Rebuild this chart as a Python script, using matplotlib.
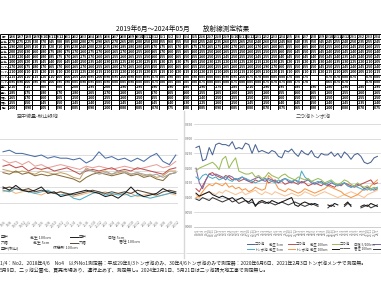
import numpy as np
import matplotlib
matplotlib.use("Agg")
import matplotlib.pyplot as plt
from matplotlib.lines import Line2D

plt.rcParams['font.family'] = ['Noto Sans CJK JP', 'DejaVu Sans']

nan = np.nan
W, H = 381, 286

# ---------------- data ----------------
title = "2019年6月～2024年05月　　放射線測定結果"
left_title = "空中線量-秋山緑地"
right_title = "二つ池トンボ池"

left_dates = ["19/6", "19/8", "19/10", "19/12", "20/2", "20/4", "20/6", "20/8", "20/10", "20/12",
              "21/2", "21/4", "21/6", "21/8", "21/10", "21/12", "22/2", "22/4", "22/6", "22/8",
              "22/10", "22/12", "23/2", "23/4", "23/6", "23/8", "23/10", "23/12"]

left_blue = [0.21, 0.215, 0.205, 0.205, 0.20, 0.195, 0.20, 0.19, 0.195, 0.19, 0.19, 0.185, 0.19, 0.175,
             0.185, 0.21, 0.19, 0.195, 0.185, 0.19, 0.18, 0.19, 0.18, 0.195, 0.205, 0.18, 0.17, 0.20]
left_pink = [0.185, 0.175, 0.18, 0.17, 0.18, 0.165, 0.17, 0.16, 0.165, 0.17, 0.165, 0.16, 0.155, 0.165,
             0.16, 0.165, 0.16, 0.155, 0.16, 0.165, 0.16, 0.155, 0.16, 0.165, 0.17, 0.16, 0.165, 0.18]
left_red = [0.165, 0.17, 0.16, 0.165, 0.15, 0.16, 0.155, 0.16, 0.15, 0.155, 0.16, 0.15, 0.14, 0.15,
            0.155, 0.15, 0.155, 0.16, 0.15, 0.155, 0.15, 0.16, 0.155, 0.15, 0.145, 0.14, 0.155, 0.16]
left_olive = [0.155, 0.15, 0.145, 0.15, 0.145, 0.14, 0.15, 0.145, 0.14, 0.145, 0.14, 0.13, 0.125, 0.16,
              0.15, 0.145, 0.15, 0.14, 0.145, 0.15, 0.14, 0.145, 0.135, 0.14, 0.13, 0.135, 0.15, 0.15]
left_brown = [0.145, 0.14, 0.15, 0.14, 0.145, 0.135, 0.14, 0.135, 0.14, 0.135, 0.13, 0.125, 0.115, 0.13,
              0.14, 0.145, 0.14, 0.135, 0.14, 0.145, 0.135, 0.14, 0.13, 0.135, 0.125, 0.12, 0.14, 0.145]
left_gray = [nan, nan, nan, nan, nan, nan, nan, nan, nan, nan, nan, nan, 0.14, 0.155,
             0.15, 0.14, 0.145, 0.14, 0.15, 0.145, 0.14, 0.145, 0.14, 0.135, 0.14, 0.13, 0.14, 0.145]
left_black = [0.10, 0.09, 0.105, 0.09, 0.085, 0.09, 0.10, 0.08, 0.085, 0.07, 0.075, 0.08, 0.085, 0.09,
              0.085, 0.08, 0.07, 0.075, 0.065, 0.08, 0.10, 0.08, 0.07, 0.075, 0.08, 0.095, 0.085, 0.08]
left_dark = [0.095, 0.10, 0.095, 0.09, 0.095, 0.085, 0.09, 0.085, 0.08, 0.085, 0.08, 0.075, 0.08, 0.085,
             0.09, 0.085, 0.08, 0.085, 0.08, 0.085, 0.08, 0.09, 0.085, 0.08, 0.075, 0.085, 0.09, 0.085]
left_cyan = [0.09, 0.085, 0.095, 0.09, 0.085, 0.08, 0.085, 0.09, 0.08, 0.075, 0.08, 0.065, 0.06, 0.07,
             0.08, 0.085, 0.075, 0.08, 0.075, 0.08, 0.07, 0.075, 0.07, 0.065, 0.07, 0.075, 0.08, 0.085]
left_tan = [0.085, 0.09, 0.08, 0.085, 0.09, 0.08, 0.075, 0.085, 0.08, 0.085, 0.075, 0.07, 0.075, 0.08,
            0.085, 0.08, 0.085, 0.075, 0.08, 0.075, 0.08, 0.07, 0.075, 0.08, 0.07, 0.075, 0.08, 0.075]

left_series = [left_blue, left_pink, left_red, left_olive, left_brown, left_gray,
               left_tan, left_cyan, left_dark, left_black]
left_colors = ["#4a6fa5", "#e8a09a", "#c0504d", "#c4a66a", "#8a6d3b", "#a5a5a5",
               "#f2b880", "#4bacc6", "#5a4636", "#1a1a1a"]
left_legend = [("空中", "芝生 100cm"), ("空中", "日陰 5cm"),
               ("六幡", "芝生 5cm"), ("六幡", "居住 100cm"),
               ("空中(秋山)", "休憩所 100cm")]

right_dates = [f"{y % 100}/{m}" for y, m in
               [(2019 + (5 + k) // 12, (5 + k) % 12 + 1) for k in range(56)]]

right_blue = [0.27, 0.275, 0.225, 0.23, 0.27, 0.245, 0.28, 0.285, 0.28, 0.28, 0.275, 0.29, 0.265, 0.27,
              0.265, 0.285, 0.28, 0.25, 0.28, 0.255, 0.26, 0.255, 0.25, 0.26, 0.255, 0.24, 0.235, 0.26,
              0.255, 0.265, 0.25, 0.24, 0.26, 0.25, 0.245, 0.26, 0.24, 0.235, 0.25, 0.245, 0.245, 0.255,
              0.24, 0.25, 0.235, 0.255, 0.245, 0.23, 0.245, 0.25, 0.24, 0.22, 0.215, 0.22, 0.235, 0.24]
right_green = [0.19, 0.20, 0.205, 0.21, 0.215, 0.22, 0.21, 0.195, 0.23, 0.24, 0.20, 0.22, 0.235, 0.19,
               0.185, 0.18, 0.18, 0.185, 0.17, 0.175, 0.165, 0.17, 0.185, 0.175, 0.17, 0.165, 0.175, 0.18,
               0.17, 0.165, 0.16, 0.17, 0.165, 0.16, 0.165, 0.155, 0.16, 0.165, 0.16, 0.15, 0.155, 0.16,
               0.15, 0.145, 0.15, 0.16, 0.155, 0.145, 0.14, 0.15, 0.14, 0.135, 0.14, 0.13, 0.135, 0.13]
right_purple = [0.20, 0.15, 0.13, 0.16, 0.18, 0.175, 0.18, 0.175, 0.17, 0.16, 0.175, 0.17, 0.16, 0.165,
                0.17, 0.16, 0.155, 0.16, 0.165, 0.17, 0.16, 0.155, 0.165, 0.16, 0.155, 0.15, 0.16, 0.165,
                0.155, 0.15, 0.16, 0.155, 0.15, 0.155, 0.16, 0.15, 0.145, 0.15, 0.155, 0.145, 0.14, 0.15,
                0.145, 0.14, 0.145, 0.15, 0.14, 0.135, 0.14, 0.145, 0.14, 0.13, 0.135, 0.13, 0.125, 0.13]
right_red = [0.13, 0.12, 0.14, 0.16, 0.18, 0.185, 0.175, 0.17, 0.165, 0.175, 0.17, 0.16, 0.165, 0.155,
             0.16, 0.165, 0.155, 0.15, 0.16, 0.155, 0.16, 0.165, 0.15, 0.155, 0.16, 0.15, 0.155, 0.145,
             0.15, 0.155, 0.15, 0.145, 0.155, 0.15, 0.14, 0.145, 0.15, 0.145, 0.14, 0.15, 0.145, 0.14,
             0.135, 0.145, 0.14, 0.15, 0.145, 0.14, 0.135, 0.14, 0.145, 0.15, 0.155, 0.16, 0.145, 0.15]
right_orange = [0.10, 0.105, 0.12, 0.135, 0.145, 0.14, 0.15, 0.145, 0.14, 0.15, 0.135, 0.14, 0.13, 0.135,
                0.125, 0.13, 0.12, 0.125, 0.135, 0.13, 0.125, 0.13, 0.175, 0.165, 0.15, 0.13, 0.125, 0.12,
                0.13, 0.125, 0.12, 0.115, 0.12, 0.13, 0.125, 0.12, 0.115, 0.12, 0.125, 0.13, 0.14, 0.135,
                0.13, 0.125, 0.12, 0.11, 0.105, 0.10, 0.105, 0.11, 0.12, 0.13, 0.125, 0.14, 0.15, 0.16]
right_cyan = [0.17, 0.16, 0.175, 0.18, 0.17, 0.165, 0.17, 0.16, 0.165, 0.17, 0.16, 0.155, 0.165, 0.16,
              0.17, 0.165, 0.16, 0.155, 0.15, 0.155, 0.16, 0.165, 0.16, 0.155, 0.15, 0.16, 0.155, 0.165,
              0.16, 0.155, 0.16, 0.15, 0.19, 0.17, 0.16, 0.155, 0.15, 0.155, 0.15, 0.145, 0.15, 0.155,
              0.145, 0.14, 0.145, 0.15, 0.14, 0.135, 0.14, 0.135, 0.13, 0.125, 0.13, 0.125, 0.13, 0.135]
right_peach = [0.11, 0.10, 0.11, 0.115, 0.12, 0.115, 0.11, 0.12, 0.115, 0.125, 0.12, 0.115, 0.11, 0.115,
               0.12, 0.11, 0.115, 0.12, 0.125, 0.115, 0.11, 0.12, 0.115, 0.11, 0.12, 0.115, 0.11, 0.105,
               0.11, 0.115, 0.11, 0.105, 0.11, 0.12, 0.115, 0.11, 0.105, 0.11, 0.115, 0.12, 0.115, 0.11,
               0.105, 0.10, 0.105, 0.11, 0.115, 0.12, 0.115, 0.11, 0.105, 0.10, 0.11, 0.115, 0.12, 0.125]
right_black = [0.115, 0.105, 0.11, 0.115, 0.12, 0.11, 0.105, 0.10, 0.105, 0.10, 0.095, 0.10, 0.09, 0.095,
               0.10, 0.09, 0.085, 0.095, 0.07, 0.085, 0.09, 0.085, 0.08, 0.09, 0.085, 0.08, 0.085, 0.09,
               0.095, 0.10, 0.075, 0.07, 0.08, 0.085, 0.08, 0.075, 0.08, 0.075, nan, nan, 0.075, 0.07,
               0.08, 0.075, nan, 0.075, 0.085, 0.07, nan, nan, 0.07, 0.075, 0.07, 0.08, 0.075, 0.07]
right_dark = [0.095, 0.09, 0.10, 0.095, 0.09, 0.10, 0.095, 0.09, 0.085, 0.09, 0.095, 0.085, 0.09, 0.08,
              0.085, 0.09, 0.08, 0.085, 0.075, 0.08, 0.085, 0.08, 0.085, 0.08, 0.075, 0.08, 0.085, 0.08,
              0.075, 0.08, 0.085, 0.08, 0.075, 0.07, 0.075, 0.08, 0.075, 0.07, nan, nan, 0.065, 0.075,
              0.07, nan, nan, 0.07, 0.08, 0.075, nan, nan, 0.065, 0.07, 0.075, 0.065, 0.07, 0.075]

right_series = [right_peach, right_orange, right_red, right_purple, right_cyan, right_green,
                right_blue, right_dark, right_black]
right_colors = ["#f9c394", "#f79646", "#c0504d", "#8064a2", "#4bacc6", "#9bbb59",
                "#4a6494", "#3a3a3a", "#141414"]
right_legend_rows = [
    [("#4a6494", "二つ池", "芝生 5cm"), ("#c0504d", "二つ池", "芝生 100cm"),
     ("#9bbb59", "二つ池", "日陰 5/100cm"), ("#8064a2", "二つ池", "")],
    [("#4bacc6", "トンボ池", "芝生 5cm"), ("#f79646", "トンボ池", "芝生 100cm"),
     ("#141414", "━━━", "居住 100cm"), ("#3a3a3a", "", "")],
]
right_yticks = [0.0, 0.05, 0.10, 0.15, 0.20, 0.25, 0.30, 0.35]

site_names = ["日付", "二つ池1", "二つ池2", "二つ池3", "二つ池4", "二つ池5", "トンボ1", "トンボ2",
              "トンボ3", "トンボ4", "空中1", "空中2", "六幡1", "六幡2", "秋山"]

footnote1 = ("1/4：No2、2018年4/6　No4　以外No1測定器：平成29年6/3トンボ池のみ、30年4/6トンボ池のみで測定器："
             "2020年6月6日、2021年2月3日トンボ池メンテで測定無。")
footnote2 = "5月9日、二ッ池公園北、買売市場あり、運行止めず、測定無し。2024年2月1日、5月21日は二ッ池調大地工事で測定無し。"

# ---------------- figure ----------------
fig = plt.figure(figsize=(W / 100, H / 100), dpi=100)
fig.patch.set_facecolor("white")


def axes_px(x0, y0, x1, y1):
    return fig.add_axes([x0 / W, 1 - y1 / H, (x1 - x0) / W, (y1 - y0) / H])


def fx(x):
    return x / W


def fy(y):
    return 1 - y / H


fig.text(fx(183), fy(29), title, fontsize=4.8, ha="center", va="center", color="#111111")

# ---------------- table ----------------
n_rows, n_cols = 15, 48
ax_t = axes_px(0, 34, 381, 110)
ax_t.set_xlim(0, n_cols)
ax_t.set_ylim(n_rows, 0)
ax_t.axis("off")
ax_t.hlines(np.arange(n_rows + 1), 0, n_cols, color="black", lw=0.7)
ax_t.vlines(np.arange(n_cols + 1), 0, n_rows, color="black", lw=0.7)

right_rows = [right_blue, right_green, right_purple, right_red, right_orange,
              right_cyan, right_peach, right_black, right_dark]
left_rows = [left_blue, left_pink, left_red, left_olive, left_black]
for r in range(n_rows):
    ax_t.text(0.5, r + 0.55, site_names[r], fontsize=1.6, ha="center", va="center",
              color="black", fontweight="bold")
    for c in range(1, n_cols):
        k = c - 1
        if r == 0:
            s = right_dates[k]
        elif r <= len(right_rows):
            v = right_rows[r - 1][k]
            s = "" if np.isnan(v) else f"{v:.3f}"[1:]
        else:
            ser = left_rows[r - 1 - len(right_rows)]
            if k % 2 == 0 and k // 2 < len(ser) and not np.isnan(ser[k // 2]):
                s = f"{ser[k // 2]:.3f}"[1:]
            else:
                s = ""
        if s:
            ax_t.text(c + 0.5, r + 0.55, s, fontsize=2.1, ha="center", va="center",
                      color="black", fontweight="bold", family="DejaVu Sans")

# ---------------- left chart ----------------
ax_l = axes_px(-6.6, 129.4, 177.7, 219)
xl = np.arange(len(left_dates))
for ser, col in zip(left_series, left_colors):
    ax_l.plot(xl, ser, color=col, lw=0.75)
ax_l.set_xlim(-1.5, 27.3)
ax_l.set_ylim(0, 0.28)
ax_l.set_yticks([0, 0.05, 0.10, 0.15, 0.20, 0.25])
ax_l.yaxis.grid(True, color="#d0d0d0", lw=0.5)
ax_l.set_axisbelow(True)
for s in ax_l.spines.values():
    s.set_visible(False)
ax_l.tick_params(axis="y", left=False, labelleft=False)
ax_l.set_xticks(xl)
ax_l.set_xticklabels(left_dates, rotation=45, fontsize=2.4, color="#777777", ha="center")
ax_l.tick_params(axis="x", length=0, pad=0.5)
fig.text(fx(17), fy(116), left_title, fontsize=3.6, ha="left", va="center", color="#444444")

# left legend (manual)
leg_pos = [(1, 237), (70, 237), (1, 242.5), (70, 242.5), (1, 248)]
leg_sub_dx = [29, 29, 32, 40, 52]
leg_cols = ["#4a6fa5", "#1a1a1a", "#e8a09a", "#5a4636", "#4bacc6"]
for (name, sub), (lx, ly), lc, dx in zip(left_legend, leg_pos, leg_cols, leg_sub_dx):
    if lx > 5:
        fig.add_artist(Line2D([fx(lx), fx(lx + 8)], [fy(ly), fy(ly)], color=lc, lw=0.7))
        tx = lx + 9
    else:
        tx = lx
    fig.text(fx(tx), fy(ly), name, fontsize=2.8, ha="left", va="center", color="#333333")
    fig.text(fx(tx + dx), fy(ly), sub, fontsize=2.8, ha="left", va="center", color="#333333")

# ---------------- right chart ----------------
ax_r = axes_px(194.35, 124, 384, 227)
xr = np.arange(len(right_dates))
for ser, col in zip(right_series, right_colors):
    ax_r.plot(xr, ser, color=col, lw=0.75)
ax_r.set_xlim(-0.5, 57)
ax_r.set_ylim(0, 0.35)
ax_r.set_yticks(right_yticks)
ax_r.set_yticklabels([f"{v:.3f}" for v in right_yticks], fontsize=2.4, color="#666666")
ax_r.yaxis.grid(True, color="#d0d0d0", lw=0.5)
ax_r.set_axisbelow(True)
for s in ax_r.spines.values():
    s.set_visible(False)
ax_r.spines["bottom"].set_visible(True)
ax_r.spines["bottom"].set_color("#bbbbbb")
ax_r.spines["bottom"].set_linewidth(0.5)
ax_r.tick_params(axis="y", length=0, pad=1)
ax_r.set_xticks(xr)
ax_r.set_xticklabels(right_dates, rotation=90, fontsize=2.2, color="#777777")
ax_r.tick_params(axis="x", length=0, pad=1)
fig.text(fx(313), fy(117), right_title, fontsize=3.6, ha="center", va="center", color="#444444")

rl_x = [247, 288, 332, 373]
rl_y = [244, 249]
for row, ly in zip(right_legend_rows, rl_y):
    for (col, name, sub), lx in zip(row, rl_x):
        fig.add_artist(Line2D([fx(lx), fx(lx + 7)], [fy(ly), fy(ly)], color=col, lw=0.7))
        fig.text(fx(lx + 8), fy(ly), name, fontsize=2.4, ha="left", va="center", color="#333333")
        fig.text(fx(lx + 22), fy(ly), sub, fontsize=2.4, ha="left", va="center", color="#333333")

# separators
fig.add_artist(Line2D([fx(184), fx(184)], [fy(111), fy(258)], color="#d8d8d8", lw=1.0))
fig.add_artist(Line2D([fx(0), fx(183)], [fy(253), fy(253)], color="#dddddd", lw=0.6))
fig.add_artist(Line2D([fx(186), fx(381)], [fy(253), fy(253)], color="#dddddd", lw=0.6))

# footnotes
fig.text(fx(0), fy(263), footnote1, fontsize=3.5, ha="left", va="center", color="#222222")
fig.text(fx(0), fy(270.5), footnote2, fontsize=3.5, ha="left", va="center", color="#222222")

fig.savefig("out.png", dpi=100, facecolor="white")
